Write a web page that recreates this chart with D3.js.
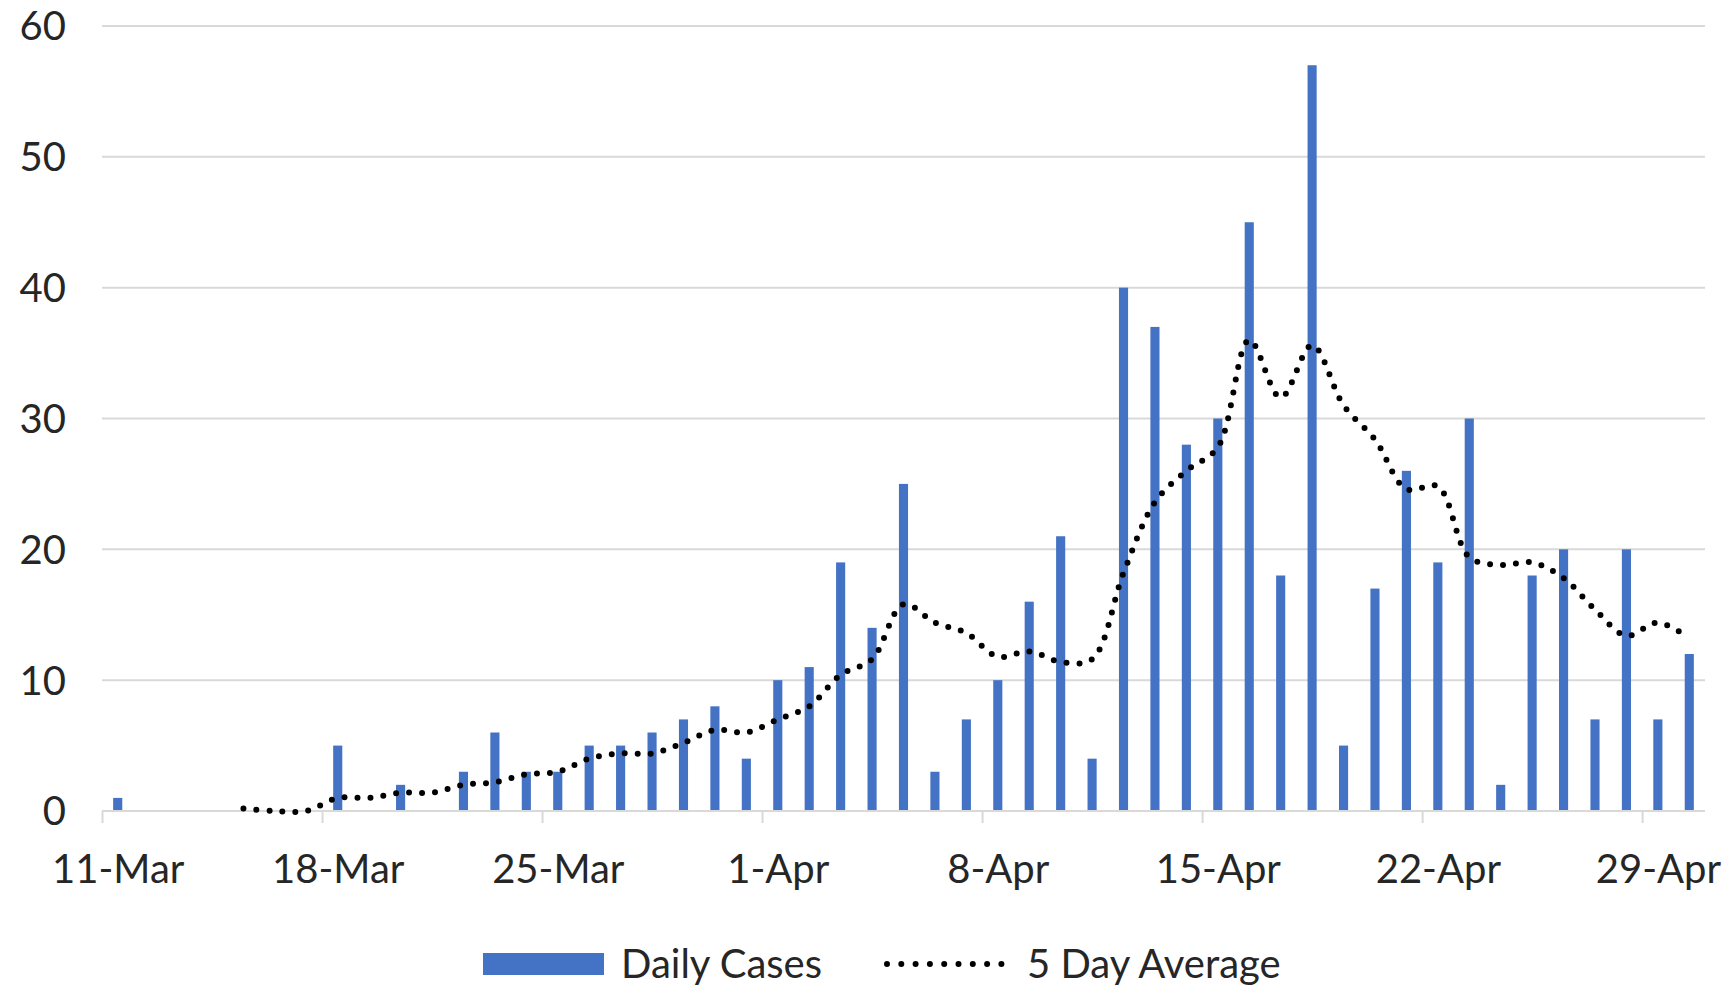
<!DOCTYPE html>
<html>
<head>
<meta charset="utf-8">
<script src="https://cdn.jsdelivr.net/npm/d3@7"></script>
<style>
  html, body { margin: 0; padding: 0; background: #fff; }
  svg { display: block; font-family: Lato, "Open Sans", sans-serif; }
</style>
</head>
<body>
<svg id="chart" width="1723" height="988"></svg>
<script>
// one entry per day, 11-Mar .. 30-Apr
var dayLabels = ["11-Mar","12-Mar","13-Mar","14-Mar","15-Mar","16-Mar","17-Mar","18-Mar","19-Mar","20-Mar",
  "21-Mar","22-Mar","23-Mar","24-Mar","25-Mar","26-Mar","27-Mar","28-Mar","29-Mar","30-Mar","31-Mar",
  "1-Apr","2-Apr","3-Apr","4-Apr","5-Apr","6-Apr","7-Apr","8-Apr","9-Apr","10-Apr",
  "11-Apr","12-Apr","13-Apr","14-Apr","15-Apr","16-Apr","17-Apr","18-Apr","19-Apr","20-Apr",
  "21-Apr","22-Apr","23-Apr","24-Apr","25-Apr","26-Apr","27-Apr","28-Apr","29-Apr","30-Apr"];

var dailyCases = [1,0,0,0,0,0,0, 5,0,2,0,3,6,3, 3,5,5,6,7,8,4, 10,11,19,14,25,3,7,
  10,16,21,4,40,37,28, 30,45,18,57,5,17,26, 19,30,2,18,20,7,20, 7,12];

var fiveDayAvg = [null,null,null,null,0.2,0,0, 1,1,1.4,1.4,2,2.2,2.8, 3,4,4.4,4.4,5.2,6.2,6,
  7,8,10.4,11.6,15.8,14.4,13.6, 11.8,12.2,11.4,11.6,18.2,23.6,26, 27.8,36,31.6,35.6,31,28.4,24.6,
  24.8,19.4,18.8,19,17.8,15.4,13.4, 14.4,13.2];

var xTickLabels = ["11-Mar","18-Mar","25-Mar","1-Apr","8-Apr","15-Apr","22-Apr","29-Apr"];
var yTicks = [0,10,20,30,40,50,60];

function drawChart() {
  var svg = d3.select("#chart");
  var plotLeft = 102, plotRight = 1705, plotTop = 26, plotBottom = 811;
  var fontSize = 40;

  var x = d3.scaleBand().domain(dayLabels).range([plotLeft, plotRight]).paddingInner(0.71).paddingOuter(0.355);
  var step = x.step();
  var y = d3.scaleLinear().domain([0, 60]).range([plotBottom, plotTop]);

  // gridlines
  svg.append("g")
    .selectAll("line")
    .data(yTicks.slice(1))
    .enter().append("line")
    .attr("x1", plotLeft).attr("x2", plotRight)
    .attr("y1", function (d) { return y(d); })
    .attr("y2", function (d) { return y(d); })
    .attr("stroke", "#d9d9d9")
    .attr("stroke-width", 2);

  // y labels
  svg.append("g")
    .selectAll("text")
    .data(yTicks)
    .enter().append("text")
    .attr("x", 66)
    .attr("y", function (d) { return y(d); })
    .attr("dy", "0.36em")
    .attr("text-anchor", "end")
    .attr("font-size", fontSize)
    .attr("fill", "#262626")
    .text(function (d) { return d; });

  // bars
  svg.append("g")
    .selectAll("rect")
    .data(dailyCases)
    .enter().append("rect")
    .attr("x", function (d, i) { return x(dayLabels[i]); })
    .attr("width", x.bandwidth())
    .attr("y", function (d) { return y(d); })
    .attr("height", function (d) { return y(0) - y(d); })
    .attr("fill", "#4472c4");

  // x axis: ticks on the week boundaries, labels centred on the day
  var tickPos = d3.scaleOrdinal().domain(dayLabels)
    .range(dayLabels.map(function (d, i) { return plotLeft + i * step; }));
  var xAxis = d3.axisBottom(tickPos)
    .tickValues(xTickLabels)
    .tickSize(12);

  var gx = svg.append("g")
    .attr("transform", "translate(0," + plotBottom + ")")
    .call(xAxis);
  gx.select(".domain").remove();
  gx.selectAll(".tick line").attr("stroke", "#d9d9d9").attr("stroke-width", 2);
  gx.selectAll(".tick text")
    .attr("x", step / 2)
    .attr("y", 58)
    .attr("dy", "0.36em")
    .attr("font-size", fontSize)
    .attr("font-family", "Lato, sans-serif")
    .attr("fill", "#262626");
  gx.append("line")
    .attr("x1", plotLeft).attr("x2", plotRight)
    .attr("stroke", "#d9d9d9").attr("stroke-width", 2);

  // 5 day average, smoothed dotted line
  var line = d3.line()
    .defined(function (d) { return d != null; })
    .x(function (d, i) { return x(dayLabels[i]) + x.bandwidth() / 2; })
    .y(function (d) { return y(d); })
    .curve(d3.curveCatmullRom.alpha(0.5));

  svg.append("path")
    .datum(fiveDayAvg)
    .attr("d", line)
    .attr("fill", "none")
    .attr("stroke", "#000")
    .attr("stroke-width", 6)
    .attr("stroke-linecap", "round")
    .attr("stroke-dasharray", "0 13");

  // legend
  var lg = svg.append("g").attr("transform", "translate(0,964)");
  lg.append("rect").attr("x", 483).attr("y", -11).attr("width", 121).attr("height", 22).attr("fill", "#4472c4");
  lg.append("text").attr("x", 621).attr("dy", "0.36em").attr("font-size", fontSize).attr("fill", "#262626").text("Daily Cases");
  lg.append("line").attr("x1", 887).attr("x2", 1002)
    .attr("stroke", "#000").attr("stroke-width", 6)
    .attr("stroke-linecap", "round").attr("stroke-dasharray", "0 14.3");
  lg.append("text").attr("x", 1027).attr("dy", "0.36em").attr("font-size", fontSize).attr("fill", "#262626").text("5 Day Average");
}

drawChart();
</script>
</body>
</html>
